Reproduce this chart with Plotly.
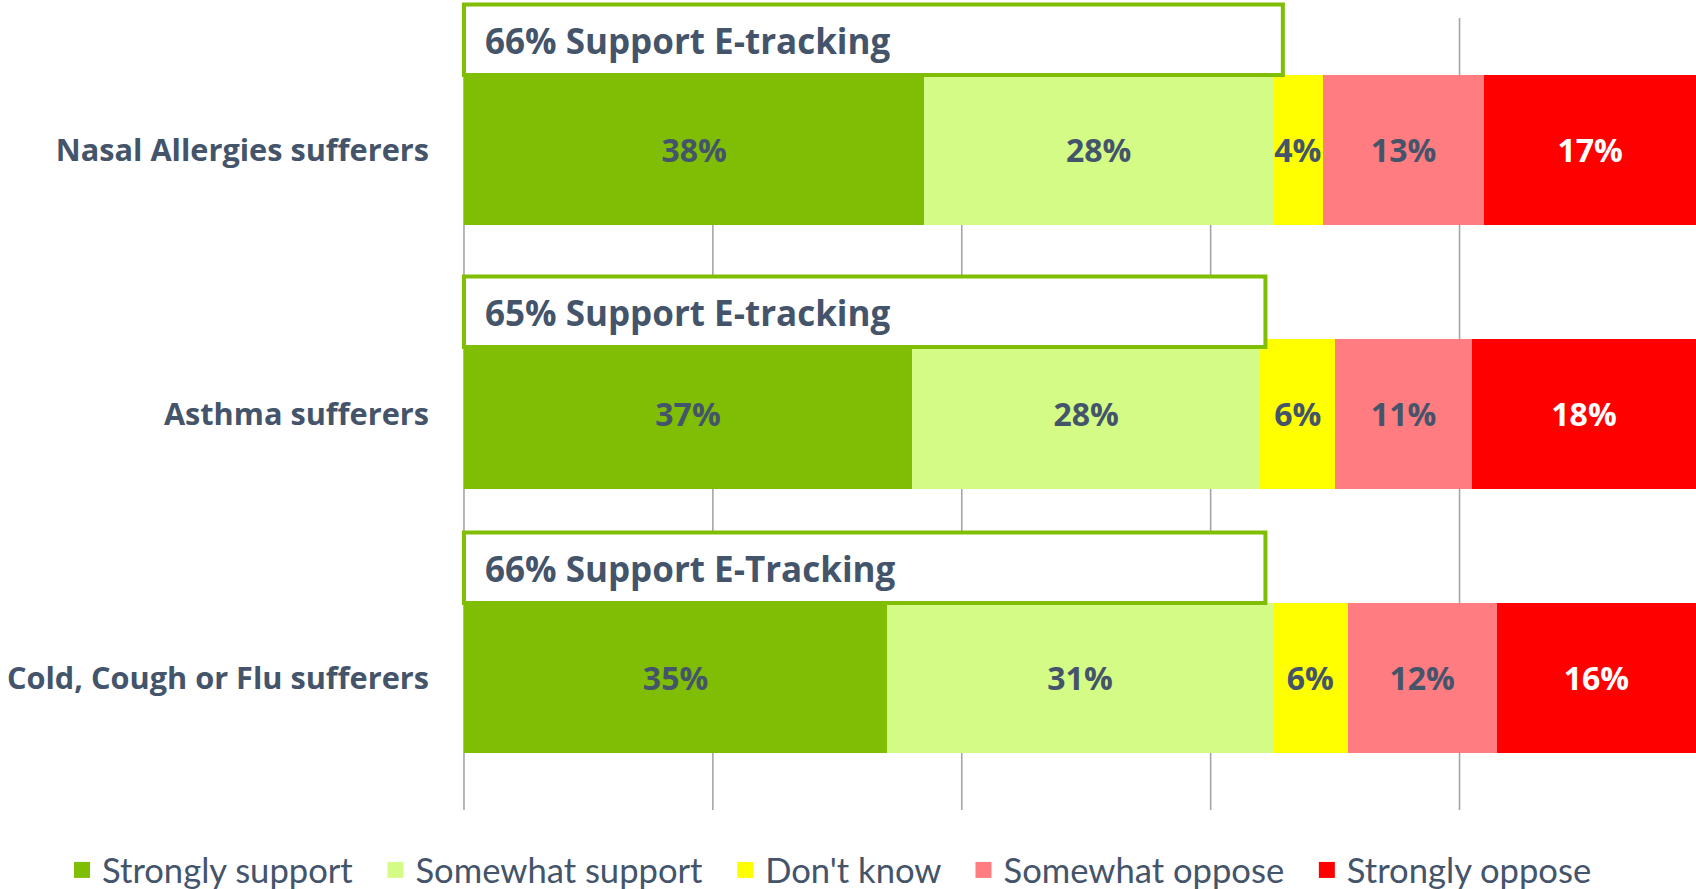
import plotly.graph_objects as go

# ---------------- data ----------------
categories = ["Nasal Allergies sufferers", "Asthma sufferers", "Cold, Cough or Flu sufferers"]
series_names = ["Strongly support", "Somewhat support", "Don't know", "Somewhat oppose", "Strongly oppose"]

# bar lengths (percent of respondents)
strongly_support = [37, 36, 34]
somewhat_support = [28, 28, 31]
dont_know = [4, 6, 6]
somewhat_oppose = [13, 11, 12]
strongly_oppose = [17, 18, 16]

# labels printed on the segments
lbl_strongly_support = ["38%", "37%", "35%"]
lbl_somewhat_support = ["28%", "28%", "31%"]
lbl_dont_know = ["4%", "6%", "6%"]
lbl_somewhat_oppose = ["13%", "11%", "12%"]
lbl_strongly_oppose = ["17%", "18%", "16%"]

# "support" call-out boxes
support_text = ["66% Support E-tracking", "65% Support E-tracking", "66% Support E-Tracking"]
support_box_end = [65.8, 64.4, 64.4]

grid_ticks = [0, 20, 40, 60, 80]

# ---------------- style ----------------
colors = ["#7FBE05", "#D5FB87", "#FFFF00", "#FF7C80", "#FF0000"]
text_colors = ["#44546A", "#44546A", "#44546A", "#44546A", "#FFFFFF"]
dark = "#44546A"
box_green = "#7FBE05"
bold_family = "Open Sans"
legend_family = "Lato"

values = [strongly_support, somewhat_support, dont_know, somewhat_oppose, strongly_oppose]
labels = [lbl_strongly_support, lbl_somewhat_support, lbl_dont_know, lbl_somewhat_oppose, lbl_strongly_oppose]

fig = go.Figure()

for name, vals, lbls, col, tcol in zip(series_names, values, labels, colors, text_colors):
    fig.add_trace(go.Bar(
        y=categories, x=vals, orientation="h", name=name,
        marker=dict(color=col, line=dict(width=0)),
        width=0.568,
        text=lbls, textposition="inside", insidetextanchor="middle",
        constraintext="none", textangle=0,
        textfont=dict(family=bold_family, size=32, color=tcol, weight="bold"),
        hoverinfo="skip", showlegend=False,
    ))

# legend entries with larger square symbols (trailing spaces widen the gap between entries)
pad = "\u00a0" * 2
for name, col in zip(series_names, colors):
    fig.add_trace(go.Scatter(
        x=[None], y=[None], mode="markers", name=name + pad,
        marker=dict(symbol="square", size=19, color=col),
        showlegend=True, hoverinfo="skip",
    ))

# gridlines (drawn as shapes so they stop at the top of the chart band)
for t in grid_ticks:
    fig.add_shape(type="line", xref="x", yref="y", x0=t, x1=t, y0=-0.5, y1=2.5,
                  line=dict(color="#A5A5A5", width=1.6), layer="below")

# call-out boxes
box_lift = [0.0, -0.03, 0.0]
for i, (txt, end) in enumerate(zip(support_text, support_box_end)):
    top = i - 0.551 - box_lift[i]
    bot = i - 0.284 - box_lift[i]
    fig.add_shape(type="rect", xref="x", yref="y", x0=0, x1=end, y0=top, y1=bot,
                  fillcolor="white", line=dict(color=box_green, width=4), layer="above")
    fig.add_annotation(xref="x", yref="y", x=0, y=(top + bot) / 2, text=txt,
                       xanchor="left", yanchor="middle", xshift=19, yshift=-1, showarrow=False,
                       font=dict(family=bold_family, size=35, color=dark, weight="bold"))

fig.update_layout(
    width=1696, height=889,
    margin=dict(l=460, r=0, t=0, b=79, pad=0, autoexpand=False),
    barmode="stack",
    plot_bgcolor="white", paper_bgcolor="white",
    font=dict(family=legend_family, color=dark),
    legend=dict(orientation="h", x=-0.322, xanchor="left", y=-0.074, yanchor="middle",
                traceorder="normal",
                font=dict(family=legend_family, size=34.6, color=dark),
                itemwidth=30, tracegroupgap=0),
    hovermode=False,
)
fig.update_xaxes(range=[-0.32, 99], showgrid=False, zeroline=False, showticklabels=False,
                 showline=False, ticks="", fixedrange=True)
fig.update_yaxes(range=[2.5, -0.568], showgrid=False, zeroline=False, showline=False,
                 ticks="", ticklabelstandoff=30, fixedrange=True,
                 tickfont=dict(family=bold_family, size=30.7, color=dark, weight="bold"))

fig.write_html("out.html", config={"displayModeBar": False},
               post_script="document.body.style.margin='0';")
